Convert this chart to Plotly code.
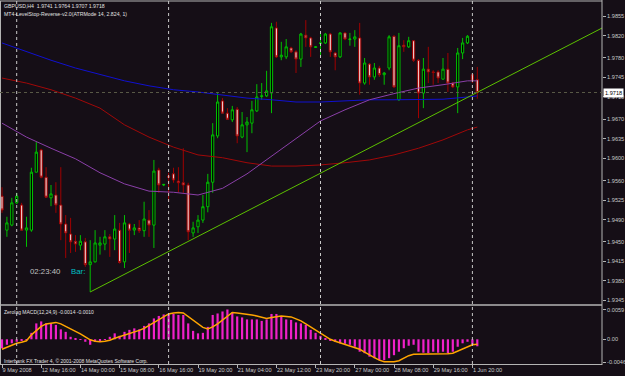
import plotly.graph_objects as go

# ---------------- data ----------------
bar_idx = list(range(98))
opens = [1.9532,1.9471,1.9480,1.9520,1.9516,1.9471,1.9471,1.9575,1.9615,1.9566,
         1.9529,1.9534,1.9516,1.9482,1.9464,1.9451,1.9444,1.9450,1.9409,1.9414,
         1.9444,1.9446,1.9459,1.9455,1.9471,1.9414,1.9482,1.9471,1.9475,1.9470,
         1.9489,1.9480,1.9579,1.9552,1.9568,1.9572,1.9559,1.9556,1.9552,1.9466,
         1.9477,1.9489,1.9513,1.9557,1.9640,1.9703,1.9681,1.9669,1.9688,1.9638,
         1.9660,1.9663,1.9685,1.9711,1.9712,1.9717,1.9834,1.9782,1.9782,1.9798,
         1.9791,1.9778,1.9821,1.9816,1.9799,1.9806,1.9807,1.9823,1.9789,1.9782,
         1.9825,1.9813,1.9814,1.9816,1.9735,1.9769,1.9746,1.9762,1.9750,1.9762,
         1.9819,1.9705,1.9803,1.9800,1.9811,1.9776,1.9717,1.9760,1.9755,1.9755,
         1.9742,1.9760,1.9735,1.9728,1.9789,1.9807,1.9750,1.9741]
highs = [1.9548,1.9495,1.9529,1.9538,1.9520,1.9495,1.9583,1.9629,1.9617,1.9584,
         1.9552,1.9557,1.9584,1.9498,1.9493,1.9462,1.9462,1.9457,1.9453,1.9471,
         1.9459,1.9471,1.9464,1.9498,1.9484,1.9498,1.9484,1.9482,1.9489,1.9522,
         1.9507,1.9597,1.9583,1.9554,1.9574,1.9583,1.9584,1.9618,1.9556,1.9486,
         1.9498,1.9534,1.9572,1.9663,1.9719,1.9708,1.9690,1.9694,1.9692,1.9683,
         1.9674,1.9703,1.9733,1.9735,1.9757,1.9843,1.9845,1.9809,1.9814,1.9800,
         1.9794,1.9825,1.9848,1.9818,1.9801,1.9825,1.9825,1.9825,1.9791,1.9826,
         1.9826,1.9825,1.9830,1.9843,1.9780,1.9771,1.9771,1.9766,1.9755,1.9821,
         1.9821,1.9825,1.9812,1.9818,1.9812,1.9778,1.9780,1.9800,1.9758,1.9758,
         1.9780,1.9789,1.9737,1.9798,1.9816,1.9821,1.9753,1.9764]
lows = [1.9502,1.9459,1.9478,1.9518,1.9470,1.9441,1.9468,1.9575,1.9564,1.9529,
        1.9514,1.9502,1.9453,1.9421,1.9430,1.9432,1.9435,1.9405,1.9360,1.9413,
        1.9427,1.9435,1.9423,1.9435,1.9411,1.9403,1.9430,1.9462,1.9466,1.9459,
        1.9459,1.9439,1.9538,1.9550,1.9522,1.9556,1.9539,1.9538,1.9453,1.9459,
        1.9466,1.9484,1.9503,1.9538,1.9636,1.9681,1.9669,1.9665,1.9627,1.9636,
        1.9611,1.9645,1.9683,1.9705,1.9710,1.9681,1.9780,1.9776,1.9778,1.9789,
        1.9753,1.9764,1.9800,1.9782,1.9798,1.9782,1.9805,1.9782,1.9758,1.9780,
        1.9812,1.9802,1.9800,1.9714,1.9732,1.9732,1.9741,1.9746,1.9732,1.9758,
        1.9726,1.9703,1.9791,1.9798,1.9773,1.9672,1.9690,1.9735,1.9732,1.9735,
        1.9741,1.9719,1.9726,1.9681,1.9778,1.9805,1.9735,1.9707]
closes = [1.9507,1.9484,1.9520,1.9532,1.9471,1.9475,1.9575,1.9611,1.9566,1.9530,
          1.9536,1.9516,1.9482,1.9466,1.9450,1.9446,1.9451,1.9409,1.9414,1.9448,
          1.9448,1.9459,1.9455,1.9473,1.9413,1.9484,1.9471,1.9475,1.9470,1.9491,
          1.9480,1.9577,1.9552,1.9553,1.9566,1.9561,1.9556,1.9552,1.9468,1.9475,
          1.9489,1.9513,1.9557,1.9642,1.9701,1.9681,1.9670,1.9687,1.9640,1.9660,
          1.9665,1.9687,1.9710,1.9712,1.9721,1.9836,1.9782,1.9785,1.9800,1.9791,
          1.9778,1.9823,1.9816,1.9800,1.9800,1.9807,1.9823,1.9791,1.9782,1.9825,
          1.9814,1.9814,1.9818,1.9735,1.9771,1.9746,1.9762,1.9750,1.9753,1.9818,
          1.9728,1.9802,1.9800,1.9811,1.9776,1.9717,1.9760,1.9755,1.9754,1.9744,
          1.9760,1.9735,1.9728,1.9789,1.9807,1.9819,1.9739,1.9718]

ma_idx = [0,5,10,15,20,25,30,35,40,45,50,55,60,65,70,75,80,85,90,95,97]
ma_blue = [1.9807,1.9791,1.9776,1.9762,1.9750,1.9739,1.9730,1.9723,1.9719,1.9714,
           1.9708,1.9705,1.9701,1.9701,1.9703,1.9705,1.9705,1.9705,1.9706,1.9710,1.9712]
ma_red = [1.9744,1.9735,1.9723,1.9708,1.9690,1.9660,1.9638,1.9620,1.9606,1.9601,
          1.9592,1.9586,1.9586,1.9588,1.9592,1.9597,1.9606,1.9618,1.9633,1.9651,1.9656]
ma_purple = [1.9663,1.9638,1.9618,1.9599,1.9574,1.9554,1.9541,1.9539,1.9534,1.9546,
             1.9572,1.9604,1.9635,1.9667,1.9687,1.9705,1.9716,1.9726,1.9732,1.9739,1.9739]

trend_idx = [18, 122.5]
trend_price = [1.9360, 1.9834]

macd_hist = [-0.0018,-0.0011,-0.0008,-0.0005,-0.0003,-0.0001,0.0013,0.0032,0.0036,0.0032,
             0.0032,0.0029,0.0020,0.0015,0.0005,0.0002,-0.0001,-0.0005,-0.0011,-0.0005,
             -0.0003,-0.0001,0.0005,0.0012,0.0007,0.0015,0.0019,0.0022,0.0020,0.0027,
             0.0032,0.0042,0.0047,0.0050,0.0051,0.0051,0.0049,0.0049,0.0032,0.0017,
             0.0012,0.0013,0.0025,0.0049,0.0052,0.0056,0.0060,0.0054,0.0046,0.0044,
             0.0040,0.0040,0.0040,0.0037,0.0040,0.0051,0.0051,0.0046,0.0040,0.0039,
             0.0034,0.0032,0.0029,0.0019,0.0013,0.0007,0.0001,-0.0003,-0.0005,-0.0008,
             -0.0009,-0.0011,-0.0015,-0.0025,-0.0028,-0.0035,-0.0038,-0.0042,-0.0042,-0.0038,
             -0.0032,-0.0025,-0.0018,-0.0013,-0.0011,-0.0025,-0.0027,-0.0028,-0.0025,-0.0027,
             -0.0025,-0.0028,-0.0025,-0.0015,-0.0008,-0.0005,-0.0011,-0.0014]
macd_signal = [-0.0020,-0.0016,-0.0012,-0.0008,-0.0006,-0.0003,0.0009,0.0017,0.0026,0.0031,
               0.0033,0.0034,0.0031,0.0026,0.0022,0.0017,0.0011,0.0005,-0.0001,-0.0004,
               -0.0005,-0.0004,-0.0002,0.0002,0.0005,0.0008,0.0011,0.0015,0.0018,0.0022,
               0.0028,0.0033,0.0039,0.0045,0.0051,0.0053,0.0054,0.0053,0.0046,0.0039,
               0.0031,0.0024,0.0021,0.0025,0.0031,0.0039,0.0047,0.0054,0.0053,0.0052,
               0.0051,0.0049,0.0047,0.0044,0.0042,0.0044,0.0046,0.0047,0.0046,0.0045,
               0.0041,0.0037,0.0031,0.0025,0.0019,0.0013,0.0006,0.0000,-0.0004,-0.0007,
               -0.0010,-0.0013,-0.0016,-0.0020,-0.0026,-0.0032,-0.0037,-0.0042,-0.0045,-0.0045,
               -0.0045,-0.0043,-0.0038,-0.0033,-0.0030,-0.0030,-0.0030,-0.0030,-0.0030,-0.0030,
               -0.0029,-0.0029,-0.0028,-0.0024,-0.0019,-0.0015,-0.0011,-0.0010]

separator_idx = [3, 34, 65, 96]
time_tick_idx = [0, 8, 16, 24, 32, 40, 48, 56, 64, 72, 80, 88, 96]
time_tick_text = ["9 May 2008", "12 May 16:00", "14 May 00:00", "15 May 08:00",
                  "16 May 16:00", "19 May 20:00", "21 May 04:00", "22 May 12:00",
                  "23 May 20:00", "27 May 00:00", "28 May 08:00", "29 May 16:00",
                  "1 Jun 20:00"]
price_ticks = [1.9855, 1.9820, 1.9780, 1.9745, 1.9710, 1.9670, 1.9635, 1.9600,
               1.9560, 1.9525, 1.9490, 1.9450, 1.9415, 1.9380, 1.9345]
macd_ticks = [0.0059, 0.0, -0.0046]
macd_tick_text = ["0.0059", "0.00", "-0.0046"]
bid_price = 1.9718

# ---------------- layout helpers ----------------
W, H = 625, 376
def px(x):
    return x / W
def py(y):
    return 1 - y / H

BG = "#150e16"
FONT = "Liberation Sans"
XR = [-2 / 4.9, 600 / 4.9]

fig = go.Figure()

fig.add_trace(go.Candlestick(
    x=bar_idx, open=opens, high=highs, low=lows, close=closes,
    xaxis="x", yaxis="y",
    increasing=dict(line=dict(color="#00c000", width=1), fillcolor="#000000"),
    decreasing=dict(line=dict(color="#a00000", width=1), fillcolor="#ecc6c6"),
    whiskerwidth=0, hoverinfo="skip"))

for vals, col in [(ma_blue, "#1010d0"), (ma_red, "#a00808"), (ma_purple, "#8a3fa8")]:
    fig.add_trace(go.Scatter(x=ma_idx, y=vals, mode="lines", xaxis="x", yaxis="y",
                             line=dict(color=col, width=1), hoverinfo="skip"))

fig.add_trace(go.Scatter(x=trend_idx, y=trend_price, mode="lines", xaxis="x", yaxis="y",
                         line=dict(color="#5cc000", width=1), hoverinfo="skip"))

fig.add_trace(go.Bar(x=bar_idx, y=macd_hist, xaxis="x2", yaxis="y2", width=0.45,
                     marker=dict(color="#f020c8", line=dict(width=0)), hoverinfo="skip"))
fig.add_trace(go.Scatter(x=bar_idx, y=macd_signal, mode="lines", xaxis="x2", yaxis="y2",
                         line=dict(color="#ffa500", width=1.5), hoverinfo="skip"))

tickfont = dict(family=FONT, size=5.6, color="#c8c8c8")

fig.update_layout(
    width=W, height=H, margin=dict(l=0, r=0, t=0, b=0),
    paper_bgcolor=BG, plot_bgcolor=BG, showlegend=False, hovermode=False,
    boxgap=0.35,
    xaxis=dict(domain=[0, px(602)], range=XR, anchor="y", showticklabels=False,
               showgrid=False, zeroline=False, showline=False, ticks="",
               rangeslider=dict(visible=False)),
    yaxis=dict(domain=[py(304), py(1)], range=[1.93384, 1.98823], side="right",
               anchor="x", tickvals=price_ticks, ticktext=[f"{v:.4f}" for v in price_ticks],
               tickfont=tickfont, ticks="outside", ticklen=3, tickcolor="#b4b4b4",
               showgrid=False, zeroline=False, showline=False),
    xaxis2=dict(domain=[0, px(602)], range=XR, anchor="y2", tickvals=time_tick_idx,
                ticktext=time_tick_text, tickfont=tickfont, ticks="outside", ticklen=3,
                tickcolor="#b4b4b4", ticklabelposition="outside right", tickangle=0,
                showgrid=False, zeroline=False, showline=False),
    yaxis2=dict(domain=[py(364), py(306)], range=[-0.00497, 0.0067], side="right",
                anchor="x2", tickvals=macd_ticks, ticktext=macd_tick_text,
                tickfont=tickfont, ticks="outside", ticklen=3, tickcolor="#b4b4b4",
                showgrid=False, zeroline=False, showline=False),
)

shapes = []
border = "#b4b4b4"
# frame lines
shapes.append(dict(type="line", xref="paper", yref="paper", x0=0, x1=px(602), y0=py(1), y1=py(1),
                   line=dict(color=border, width=1)))
shapes.append(dict(type="line", xref="paper", yref="paper", x0=0, x1=px(602), y0=py(305), y1=py(305),
                   line=dict(color=border, width=1.5)))
shapes.append(dict(type="line", xref="paper", yref="paper", x0=0, x1=px(602), y0=py(364.5), y1=py(364.5),
                   line=dict(color=border, width=1)))
shapes.append(dict(type="line", xref="paper", yref="paper", x0=px(0.5), x1=px(0.5), y0=py(1), y1=py(364.5),
                   line=dict(color=border, width=1)))
shapes.append(dict(type="line", xref="paper", yref="paper", x0=px(602), x1=px(602), y0=py(0), y1=py(365),
                   line=dict(color=border, width=1)))
# period separators
for s in separator_idx:
    shapes.append(dict(type="line", xref="x", yref="paper", x0=s, x1=s, y0=py(364), y1=py(1),
                       line=dict(color="#c8c8c8", width=1, dash="dot")))
# bid line
shapes.append(dict(type="line", xref="paper", yref="y", x0=0, x1=px(602), y0=bid_price, y1=bid_price,
                   line=dict(color="#5a5a48", width=1, dash="dot")))
fig.update_layout(shapes=shapes)

def txt(x, y, s, size, color, **kw):
    d = dict(xref="paper", yref="paper", x=px(x), y=py(y), text=s, showarrow=False,
             xanchor="left", yanchor="middle", font=dict(family=FONT, size=size, color=color),
             borderpad=0)
    d.update(kw)
    return d

ann = [
    txt(3, 6, "GBPUSD,H4&nbsp;&nbsp;1.9741 1.9764 1.9707 1.9718", 5.2, "#e0e0e0"),
    txt(3, 13.5, "MT4-LevelStop-Reverse-v2.0(ATRMode 14, 2.824, 1)", 5.2, "#e0e0e0"),
    txt(29, 271.5, "02:23:40", 7.8, "#c0c0c0"),
    txt(70, 271.5, "Bar:", 7.8, "#00c0c8"),
    txt(3, 312, "Zerolag MACD(12,24,9) -0.0014 -0.0010", 5.0, "#e0e0e0"),
    txt(3, 360.5, "Interbank FX Trader 4, © 2001-2008 MetaQuotes Software Corp.", 5.0, "#e0e0e0"),
    dict(xref="paper", yref="y", x=px(602.5), y=bid_price, text="1.9718", showarrow=False,
         xanchor="left", yanchor="middle", bgcolor="#ffffff", borderpad=1,
         font=dict(family=FONT, size=5.6, color="#000000")),
]
fig.update_layout(annotations=ann)

fig.write_html("out.html")
